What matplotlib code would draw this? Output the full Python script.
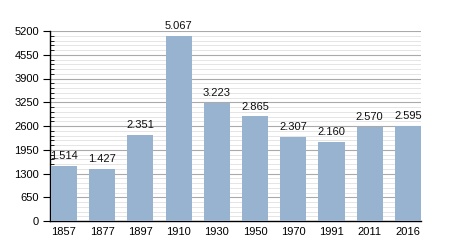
import matplotlib
matplotlib.use("Agg")
import matplotlib.pyplot as plt
from matplotlib.ticker import MultipleLocator

years = ["1857", "1877", "1897", "1910", "1930", "1950", "1970", "1991", "2011", "2016"]
population = [1514, 1427, 2351, 5067, 3223, 2865, 2307, 2160, 2570, 2595]

plt.rcParams['font.family'] = ['Liberation Sans', 'DejaVu Sans']

fig = plt.figure(figsize=(4.5, 2.5), dpi=100)
ax = fig.add_axes([50/450, 1 - 221/250, 371/450, 190/250])

x = range(len(years))
ax.bar(x, population, width=0.68, color='#98b3cf', zorder=3)

# value labels use a dot as thousands separator
for xi, v in zip(x, population):
    lbl = "{:,}".format(v).replace(",", ".")
    ax.text(xi, v + 130, lbl, ha='center', va='bottom', fontsize=8, color='#111111')

ax.set_xlim(-0.36, 9.34)
ax.set_ylim(0, 5200)
ax.set_xticks(list(x))
ax.set_xticklabels(years)
ax.yaxis.set_major_locator(MultipleLocator(650))
ax.yaxis.set_minor_locator(MultipleLocator(130))

ax.grid(which='major', axis='y', color='#aaaaaa', linewidth=0.8, zorder=0)
ax.grid(which='minor', axis='y', color='#e0e0e0', linewidth=0.6, zorder=0)

for s in ['top', 'right']:
    ax.spines[s].set_visible(False)
ax.spines['left'].set_linewidth(1)
ax.spines['bottom'].set_linewidth(1)

ax.tick_params(axis='x', length=0, pad=4, labelsize=8)
ax.tick_params(axis='y', which='major', length=5, direction='out', labelsize=8, pad=3)
ax.tick_params(axis='y', which='minor', length=3, direction='in')

fig.savefig("out.png", dpi=100)
